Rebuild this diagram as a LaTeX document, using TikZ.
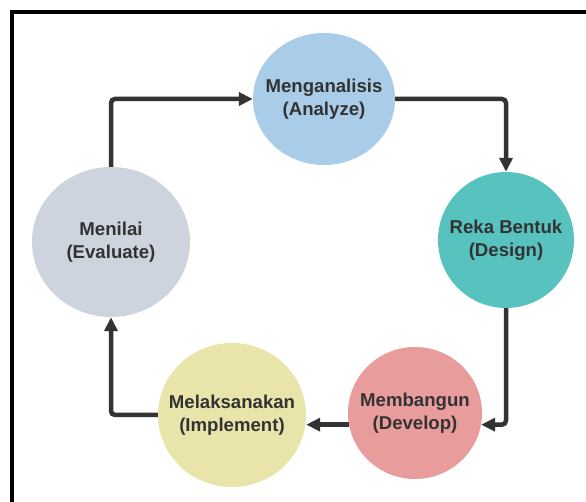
\documentclass[tikz,border=0pt]{standalone}
\usepackage{fontspec}
\setmainfont{Liberation Sans}
\usetikzlibrary{shapes.geometric,arrows.meta,calc}
\definecolor{txt}{HTML}{333333}
\definecolor{line}{HTML}{333333}
\definecolor{cblue}{HTML}{A9CDE9}
\definecolor{cteal}{HTML}{58C3BE}
\definecolor{cpink}{HTML}{E89C9B}
\definecolor{cyellow}{HTML}{E9E5AA}
\definecolor{cgrey}{HTML}{CDD4DE}
\tikzset{
  stage/.style={ellipse, inner sep=0pt, draw=none},
  stagetext/.style={text=txt, align=center, font=\fontsize{18.6}{23}\selectfont\bfseries},
  flow/.style={draw=line, line width=4.5pt, rounded corners=4pt,
    -{Triangle[length=14pt,width=13pt]}}
}
\begin{document}
\begin{tikzpicture}[x=1pt,y=1pt]
\useasboundingbox (0,0) rectangle (586,502);
\fill[white] (0,0) rectangle (586,502);
\draw[black, line width=4pt] (12,-10) -- (12,490) -- (600,490);

\node[stage, fill=cblue, minimum width=142pt, minimum height=132pt] (analisis) at (324,403) {};
\node[stage, fill=cteal, minimum width=136pt, minimum height=136pt] (reka) at (506,262) {};
\node[stage, fill=cpink, minimum width=134pt, minimum height=132pt] (membangun) at (415,89) {};
\node[stage, fill=cyellow, minimum width=148pt, minimum height=144pt] (laksana) at (232,87) {};
\node[stage, fill=cgrey, minimum width=158pt, minimum height=150pt] (menilai) at (111,260) {};

\node[stagetext] (t1) at (analisis) {Menganalisis\\(Analyze)};
\node[stagetext] (t2) at (reka) {Reka Bentuk\\(Design)};
\node[stagetext] (t3) at (membangun) {Membangun\\(Develop)};
\node[stagetext] (t4) at (laksana) {Melaksanakan\\(Implement)};
\node[stagetext] (t5) at (menilai) {Menilai\\(Evaluate)};

\draw[flow] (menilai.north) |- (analisis.west);
\draw[flow] (analisis.east) -| (reka.north);
\draw[flow] (reka.south) |- (membangun.-10.5);
\draw[flow] (membangun.190.5) -- (membangun.190.5 -| laksana.east);
\draw[flow] (laksana.west) -| (menilai.south);
\end{tikzpicture}
\end{document}
